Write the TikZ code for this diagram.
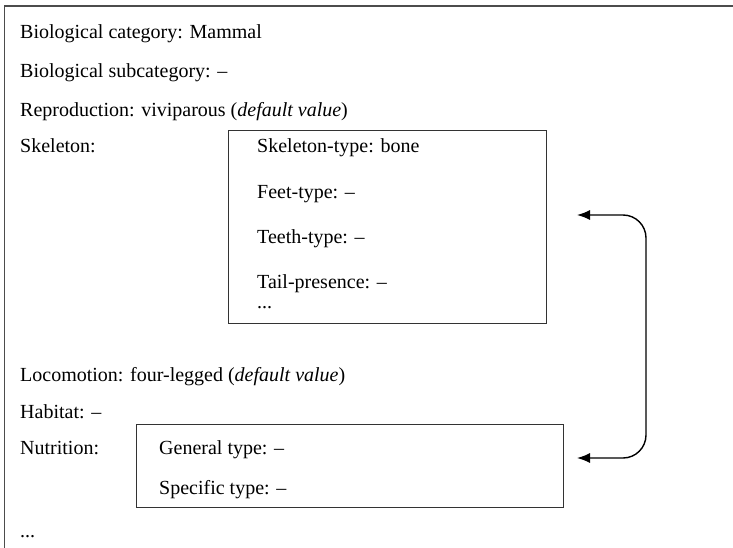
\documentclass[tikz,border=0pt]{standalone}
\usepackage{fontspec}
\setmainfont{Liberation Serif}
\usetikzlibrary{arrows.meta}
\begin{document}
\begin{tikzpicture}[x=1pt,y=-1pt,
  every node/.style={font=\fontsize{20}{24}\selectfont, inner sep=0pt, anchor=base west},
  framebox/.style={draw=black!70, line width=1.6pt},
  subbox/.style={draw=black!80, line width=1.1pt},
  link/.style={line width=1.4pt, rounded corners=23pt,
    {Latex[length=13pt,width=10pt]}-{Latex[length=13pt,width=10pt]}}]
  \useasboundingbox (0,0) rectangle (733,548);
  % outer frame (open to the right and bottom)
  \coordinate (fbl) at (4.5,560);
  \coordinate (ftl) at (4.5,6);
  \coordinate (ftr) at (740,6);
  \draw[framebox] (fbl) -- (ftl) -- (ftr);

  % top-level slots
  \node (cat)  at (20,39)  {Biological category: Mammal};
  \node (sub)  at (20,78)  {Biological subcategory: –};
  \node (rep)  at (20,117) {Reproduction: viviparous (\textit{default value})};
  \node (skl)  at (20,153) {Skeleton:};
  \node (loc)  at (20,381) {Locomotion: four-legged (\textit{default value})};
  \node (hab)  at (20,418) {Habitat: –};
  \node (nut)  at (20,454) {Nutrition:};
  \node (more) at (20,537) {...};

  % skeleton sub-frame
  \node[subbox, anchor=north west, minimum width=318pt, minimum height=193pt] (skbox) at (228,130) {};
  \node (sk1) at (257,153) {Skeleton-type: bone};
  \node (sk2) at (257,198) {Feet-type: –};
  \node (sk3) at (257,243) {Teeth-type: –};
  \node (sk4) at (257,288) {Tail-presence: –};
  \node (sk5) at (257,308) {...};

  % nutrition sub-frame
  \node[subbox, anchor=north west, minimum width=427pt, minimum height=83pt] (nubox) at (136,424) {};
  \node (nu1) at (159,454) {General type: –};
  \node (nu2) at (159,494) {Specific type: –};

  % link between the two sub-frames
  \coordinate (ta) at (577,215);
  \coordinate (tb) at (577,458);
  \draw[link] (ta) -- (646,215) -- (646,458) -- (tb);
\end{tikzpicture}
\end{document}
